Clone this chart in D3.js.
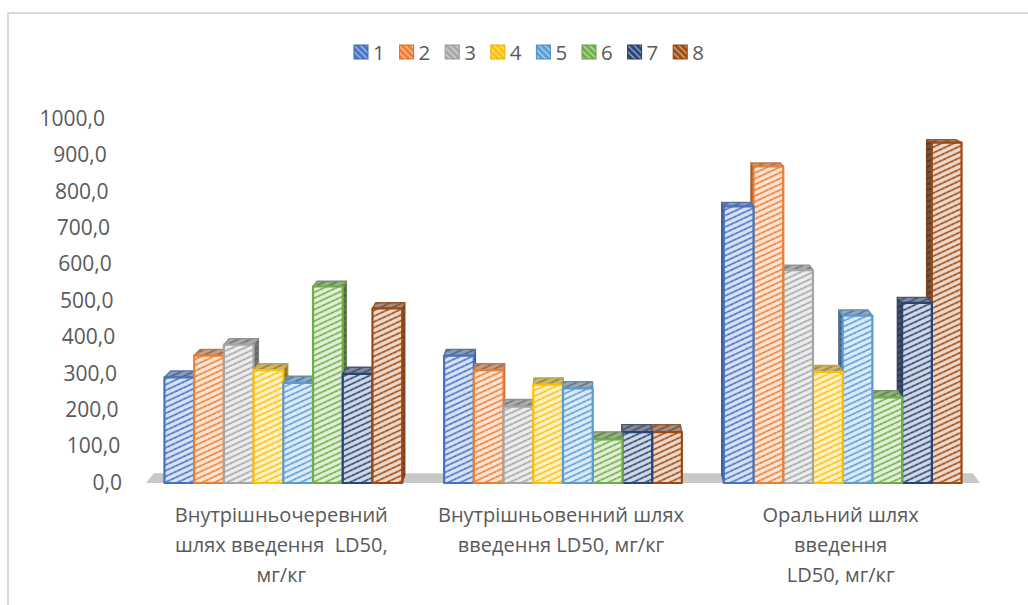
<!DOCTYPE html>
<html>
<head>
<meta charset="utf-8">
<script src="https://cdn.jsdelivr.net/npm/d3@7"></script>
<style>
  body { margin: 0; background: #fff; }
  text { font-family: "Open Sans", "Noto Sans", sans-serif; }
</style>
</head>
<body>
<svg id="chart" width="1028" height="605"></svg>
<script>
// Routes of administration (category labels, one entry per line)
const categories = [
  ["Внутрішньочеревний", "шлях введення  LD50,", "мг/кг"],
  ["Внутрішньовенний шлях", "введення LD50, мг/кг"],
  ["Оральний шлях", "введення", "LD50, мг/кг"]
];
const seriesNames = ["1", "2", "3", "4", "5", "6", "7", "8"];
const seriesColors = ["#4472C4", "#ED7D31", "#A5A5A5", "#FFC000", "#5B9BD5", "#70AD47", "#264478", "#9E480E"];

// LD50, mg/kg — one array per compound, values by route (i.p., i.v., oral)
const series1 = [290, 350, 760];
const series2 = [350, 310, 870];
const series3 = [380, 210, 585];
const series4 = [310, 270, 305];
const series5 = [275, 260, 460];
const series6 = [540, 120, 235];
const series7 = [300, 140, 495];
const series8 = [480, 140, 935];
const seriesValues = [series1, series2, series3, series4, series5, series6, series7, series8];

const yTicks = [0, 100, 200, 300, 400, 500, 600, 700, 800, 900, 1000];

const W = 1028, H = 605;
const TEXT = "#595959";
const svg = d3.select("#chart");
const defs = svg.append("defs");

// chart frame
svg.append("rect")
  .attr("x", 8).attr("y", 13).attr("width", W).attr("height", H)
  .attr("fill", "#fff").attr("stroke", "#d9d9d9").attr("stroke-width", 2);

// scales
const x0 = d3.scaleBand().domain(d3.range(categories.length))
  .range([146, 980]).paddingInner(0.15).paddingOuter(0.066);
const x1 = d3.scaleBand().domain(seriesNames).range([0, x0.bandwidth()]);
const y = d3.scaleLinear().domain([0, 1000]).range([483, 119]);

// simple perspective: points recede toward a vanishing point
const VX = 580, VY = -60;
const BAR_DEPTH = 0.015, FLOOR_DEPTH = 0.018;
const recede = (p, d) => [p[0] + (VX - p[0]) * d, p[1] + (VY - p[1]) * d];
const pts = arr => arr.map(p => p.join(",")).join(" ");

// hatch patterns ("wide upward diagonal")
function hatch(id, bg, fg, w, h, thick, angle, grain) {
  const p = defs.append("pattern")
    .attr("id", id).attr("patternUnits", "userSpaceOnUse")
    .attr("width", w).attr("height", h)
    .attr("patternTransform", `rotate(${angle})`);
  p.append("rect").attr("width", w).attr("height", h).attr("fill", bg);
  p.append("rect").attr("y", (h - thick) / 2).attr("width", w).attr("height", thick).attr("fill", fg);
  if (grain) {
    // grainy dots along the stripe
    p.append("rect").attr("x", 1).attr("y", (h - thick) / 2 + thick * 0.3)
      .attr("width", 1.3).attr("height", thick * 0.45).attr("fill", bg).attr("opacity", 0.55);
  }
}
seriesColors.forEach((c, i) => {
  const light = d3.interpolateRgb(c, "#ffffff")(0.8);
  hatch(`front${i}`, light, d3.interpolateRgb(c, "#ffffff")(0.1), 5, 5.2, 1.9, -25, true);
  const topBase = d3.interpolateRgb(c, "#7f7f7f")(0.55);
  hatch(`top${i}`, d3.interpolateRgb(topBase, "#ffffff")(0.25), d3.interpolateRgb(topBase, "#000")(0.15), 5, 5.2, 1.9, -25, true);
  const sideBase = d3.interpolateRgb(c, "#2a2a2a")(0.6);
  hatch(`side${i}`, d3.interpolateRgb(sideBase, "#ffffff")(0.15), sideBase, 5, 5.2, 1.9, -25, true);
  hatch(`leg${i}`, c, d3.interpolateRgb(c, "#ffffff")(0.55), 4, 4.5, 1.4, 45, false);
});

// floor
const fy = y(0);
const floorFront = [[146, fy], [980, fy]];
svg.append("polygon")
  .attr("points", pts([floorFront[0], floorFront[1], recede(floorFront[1], FLOOR_DEPTH), recede(floorFront[0], FLOOR_DEPTH)]))
  .attr("fill", "#c8c8c8");

// bars
const bars = [];
categories.forEach((c, ci) => {
  seriesNames.forEach((s, si) => {
    const xl = x0(ci) + x1(s), xr = xl + x1.bandwidth();
    bars.push({ ci, si, xl, xr, yt: y(seriesValues[si][ci]), yb: y(0) });
  });
});
// paint the bars farthest from the vanishing point first
bars.sort((a, b) => Math.abs((b.xl + b.xr) / 2 - VX) - Math.abs((a.xl + a.xr) / 2 - VX));

const gBars = svg.append("g");
bars.forEach(b => {
  const g = gBars.append("g");
  const c = seriesColors[b.si];
  const dark = d3.interpolateRgb(c, "#333")(0.35);
  const tl = [b.xl, b.yt], tr = [b.xr, b.yt], br = [b.xr, b.yb], bl = [b.xl, b.yb];
  // side face
  if (b.xr < VX) {
    g.append("polygon").attr("points", pts([tr, recede(tr, BAR_DEPTH), recede(br, BAR_DEPTH), br]))
      .attr("fill", `url(#side${b.si})`).attr("stroke", dark).attr("stroke-width", 1.2).attr("stroke-linejoin", "round");
  } else if (b.xl > VX) {
    g.append("polygon").attr("points", pts([tl, recede(tl, BAR_DEPTH), recede(bl, BAR_DEPTH), bl]))
      .attr("fill", `url(#side${b.si})`).attr("stroke", dark).attr("stroke-width", 1.2).attr("stroke-linejoin", "round");
  }
  // top face
  g.append("polygon").attr("points", pts([tl, tr, recede(tr, BAR_DEPTH), recede(tl, BAR_DEPTH)]))
    .attr("fill", `url(#top${b.si})`).attr("stroke", d3.interpolateRgb(c, "#777")(0.4)).attr("stroke-width", 1.4).attr("stroke-linejoin", "round");
  // front face
  g.append("polygon").attr("points", pts([tl, tr, br, bl]))
    .attr("fill", `url(#front${b.si})`).attr("stroke", c).attr("stroke-width", 2.2).attr("stroke-linejoin", "round");
});

// value axis (labels follow the slanted left edge of the plot)
const slantX = yy => 122 - (y(0) - yy) * 17 / (y(0) - y(1000));
const yAxis = d3.axisLeft(y).tickValues(yTicks).tickSize(0).tickPadding(0)
  .tickFormat(d => d3.format(".1f")(d).replace(".", ","));
const gy = svg.append("g").call(yAxis);
gy.select(".domain").remove();
gy.attr("font-family", null).attr("font-size", 21);
gy.selectAll(".tick").attr("transform", d => `translate(${slantX(y(d))},${y(d)})`);
gy.selectAll(".tick text").attr("fill", TEXT).attr("font-size", 21);

// category labels
categories.forEach((lines, ci) => {
  const t = svg.append("text")
    .attr("text-anchor", "middle").attr("font-size", 20).attr("fill", TEXT);
  lines.forEach((ln, li) => {
    t.append("tspan").attr("x", x0(ci) + x0.bandwidth() / 2 - 2).attr("y", 522 + li * 30)
      .style("white-space", "pre").text(ln);
  });
});

// legend
const gLeg = svg.append("g");
seriesNames.forEach((s, i) => {
  const lx = 354 + i * 45.6;
  gLeg.append("rect").attr("x", lx).attr("y", 45).attr("width", 14).attr("height", 14)
    .attr("fill", `url(#leg${i})`).attr("stroke", d3.interpolateRgb(seriesColors[i], "#000")(0.1)).attr("stroke-width", 1);
  gLeg.append("text").attr("x", lx + 19).attr("y", 59.5).attr("font-size", 20.5).attr("fill", TEXT).text(s);
});
</script>
</body>
</html>
